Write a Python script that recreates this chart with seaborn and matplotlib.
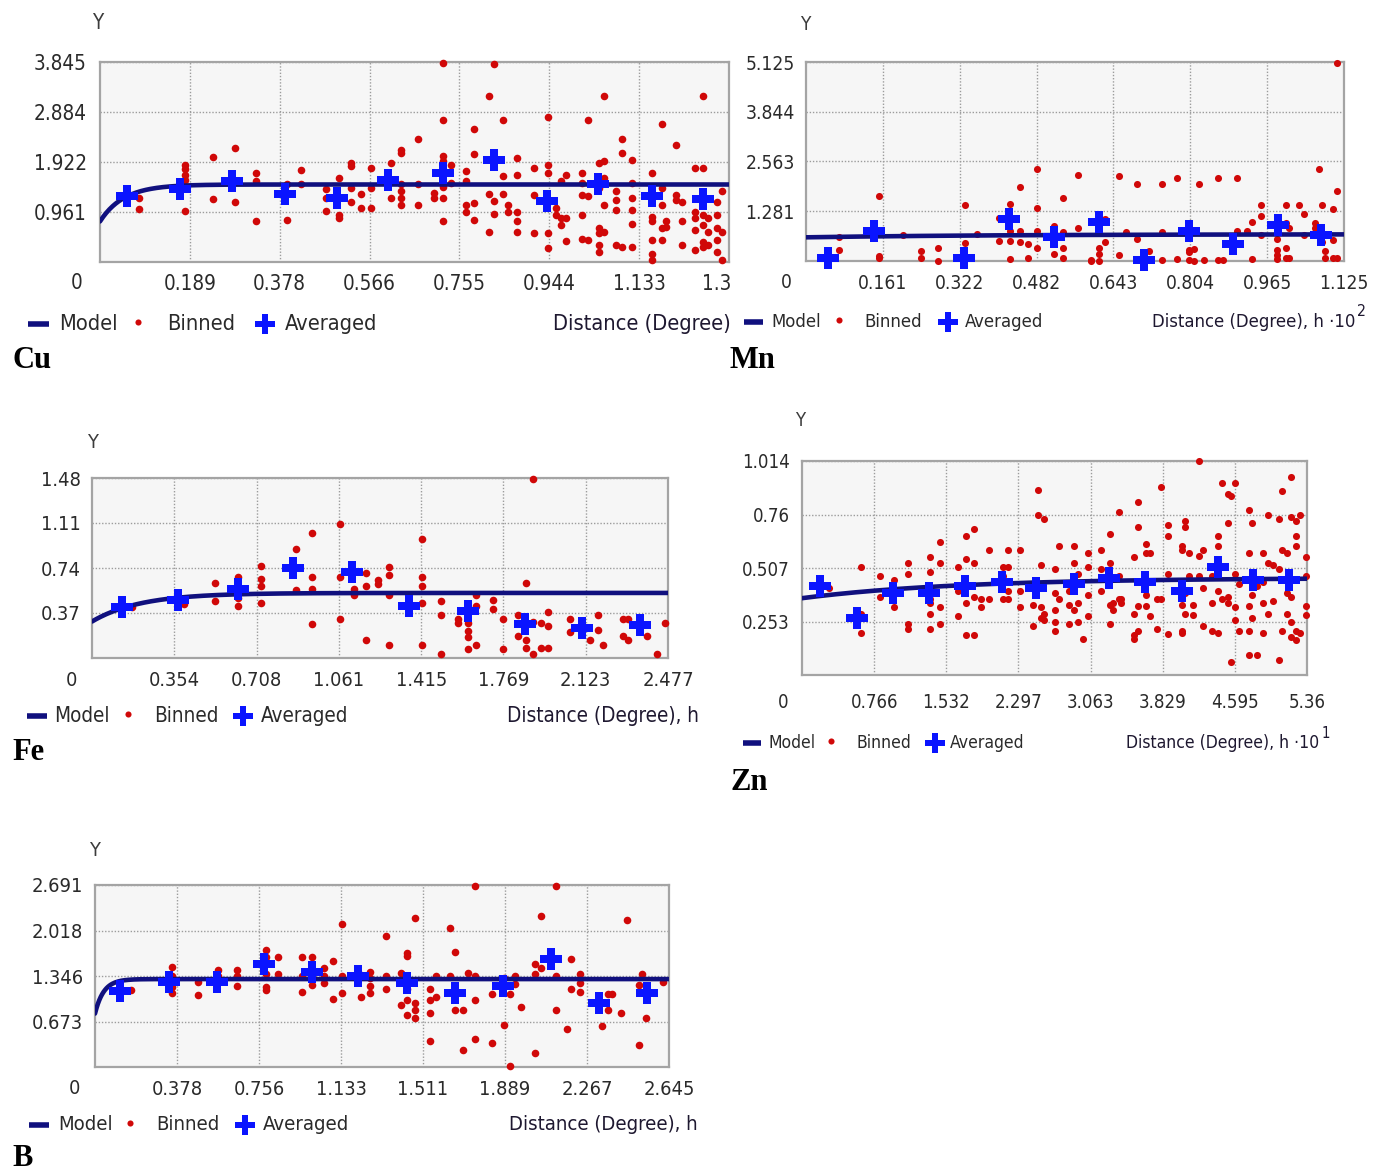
import numpy as np
import pandas as pd
import matplotlib
matplotlib.use("Agg")
import matplotlib.pyplot as plt
import seaborn as sns
from matplotlib import font_manager as fm
from matplotlib.lines import Line2D
from matplotlib.transforms import Bbox, TransformedBbox

# ---------------- data ----------------
CU_X_TICKS = ["0.189", "0.378", "0.566", "0.755", "0.944", "1.133", "1.322"]
CU_Y_TICKS = ["0.961", "1.922", "2.884", "3.845"]
CU_XMAX, CU_YMAX = 1.322, 3.845
CU_MODEL = (0.78, 1.49, 0.15)  # nugget, sill, range
CU_AVG_H = [0.057, 0.168, 0.277, 0.389, 0.498, 0.606, 0.720, 0.829, 0.939, 1.047, 1.161, 1.267]
CU_AVG_G = [1.26, 1.41, 1.56, 1.31, 1.24, 1.57, 1.71, 1.97, 1.18, 1.50, 1.26, 1.21]
CU_BINNED = [
    (0.082, [1.23, 1.02]), (0.178, [1.87, 1.78, 1.68, 1.58, 0.98]), (0.238, [2.02, 1.21]),
    (0.284, [2.20, 1.16]), (0.327, [1.71, 1.55, 0.78]), (0.393, [1.50, 0.81]),
    (0.422, [1.76, 1.50]), (0.475, [1.40, 1.23, 0.98]), (0.502, [1.62, 0.90, 0.84]),
    (0.527, [1.91, 1.84, 1.42, 1.16]), (0.549, [1.31, 1.03]), (0.569, [1.81, 1.42, 1.03]),
    (0.612, [1.91, 1.23]), (0.632, [2.16, 2.10, 1.49, 1.36, 1.23, 1.09]), (0.668, [2.36, 1.50, 1.09]),
    (0.701, [1.23, 1.32]), (0.720, [3.82, 2.73, 2.03, 1.94, 1.45, 1.24, 0.78]), (0.738, [1.87, 1.52]),
    (0.770, [1.74, 1.55, 0.97, 1.10]), (0.787, [2.55, 2.07, 1.13, 0.81]), (0.817, [3.20, 1.30, 0.58]),
    (0.829, [3.80, 1.18, 0.92]), (0.846, [2.73, 1.65, 1.30]), (0.858, [1.10, 0.97]),
    (0.876, [2.00, 1.68, 0.97, 0.78, 0.58]), (0.913, [1.81, 1.29, 0.55]),
    (0.942, [2.78, 1.87, 1.71, 1.16, 0.55, 0.26]), (0.958, [1.03, 0.90]), (0.968, [1.55, 0.84, 0.71]),
    (0.980, [1.68, 0.84, 0.40]), (1.012, [1.71, 1.52, 1.29, 0.90, 0.45]), (1.025, [2.73, 1.26, 0.42]),
    (1.049, [1.91, 1.42, 0.65, 0.55, 0.32, 0.19]), (1.059, [3.20, 1.94, 1.62, 1.09, 0.58]),
    (1.084, [1.36, 1.20, 1.00, 0.32]), (1.097, [2.37, 2.10, 0.29]),
    (1.119, [1.97, 1.52, 1.23, 1.00, 0.74, 0.29]), (1.161, [1.71, 0.87, 0.78, 0.42, 0.16, 0.03]),
    (1.181, [2.66, 1.42, 1.10, 0.65, 0.42]), (1.190, [0.78, 0.68]), (1.211, [2.25, 1.29, 1.20]),
    (1.223, [1.15, 0.78, 0.32]), (1.250, [1.81, 0.97, 0.84, 0.61, 0.23]),
    (1.267, [3.20, 1.81, 0.90, 0.71, 0.39, 0.29]), (1.277, [0.84, 0.58, 0.32]),
    (1.297, [1.16, 0.90, 0.65, 0.42, 0.19]), (1.307, [1.36, 0.58, 0.03]),
]

MN_X_TICKS = ["0.161", "0.322", "0.482", "0.643", "0.804", "0.965", "1.125"]
MN_Y_TICKS = ["1.281", "2.563", "3.844", "5.125"]
MN_XMAX, MN_YMAX = 1.125, 5.125
MN_MODEL = (0.61, 0.69, 1.2)
MN_AVG_H = [0.047, 0.142, 0.330, 0.425, 0.519, 0.613, 0.706, 0.800, 0.892, 0.987, 1.077]
MN_AVG_G = [0.09, 0.78, 0.09, 1.09, 0.61, 1.01, 0.03, 0.76, 0.43, 0.92, 0.68]
MN_BINNED = [
    (0.069, [0.63, 0.29]), (0.152, [1.68, 0.14, 0.07]), (0.202, [0.68]), (0.240, [0.26, 0.07]),
    (0.277, [0.33, 0.0]), (0.332, [1.44, 0.46]), (0.358, [0.69]), (0.403, [1.11, 0.52]),
    (0.426, [1.46, 0.76, 0.52, 0.05]), (0.448, [1.91, 0.78, 0.50]), (0.465, [0.43, 0.09]),
    (0.483, [2.37, 1.37, 0.78, 0.33]), (0.519, [0.89, 0.17]), (0.538, [1.62, 0.75, 0.33, 0.07]),
    (0.569, [2.21, 0.85]), (0.596, [0.02, 0.0]), (0.612, [0.33, 0.17, 0.0]), (0.626, [1.07, 0.50]),
    (0.655, [2.20, 0.16]), (0.669, [0.75]), (0.693, [1.98, 0.57]), (0.718, [0.26, 0.03]),
    (0.744, [1.98, 0.75, 0.03]), (0.776, [2.15, 0.05]), (0.801, [0.29, 0.23, 0.03]),
    (0.811, [0.31, 0.0]), (0.822, [1.98]), (0.832, [0.03]), (0.861, [2.15, 0.03]), (0.871, [0.03]),
    (0.901, [2.15, 0.76]), (0.922, [0.76]), (0.933, [1.01, 0.05]), (0.951, [1.44, 1.16, 0.68]),
    (0.984, [0.57, 0.29, 0.16, 0.05]), (1.004, [1.44, 0.98, 0.33, 0.07]), (1.011, [0.85, 0.07]),
    (1.030, [1.44]), (1.041, [1.20, 0.68]), (1.064, [0.98, 0.85]), (1.073, [2.37]),
    (1.079, [1.44, 0.49]), (1.085, [0.26, 0.07]), (1.103, [1.33, 0.55, 0.07]),
    (1.111, [5.09, 1.79, 0.09]),
]

FE_X_TICKS = ["0.354", "0.708", "1.061", "1.415", "1.769", "2.123", "2.477"]
FE_Y_TICKS = ["0.37", "0.74", "1.11", "1.48"]
FE_XMAX, FE_YMAX = 2.477, 1.48
FE_MODEL = (0.30, 0.535, 0.62)
FE_AVG_H = [0.131, 0.371, 0.630, 0.866, 1.119, 1.365, 1.615, 1.862, 2.108, 2.358]
FE_AVG_G = [0.42, 0.48, 0.57, 0.74, 0.71, 0.43, 0.39, 0.28, 0.25, 0.27]
FE_BINNED = [
    (0.173, [0.42]), (0.394, [0.44]), (0.530, [0.62, 0.47]), (0.630, [0.67, 0.49, 0.43]),
    (0.728, [0.76, 0.65, 0.59, 0.45]), (0.876, [0.90, 0.56]), (0.947, [1.03, 0.67, 0.57, 0.28]),
    (1.066, [1.10, 0.67, 0.32]), (1.125, [0.57, 0.52]), (1.177, [0.70, 0.59, 0.15]),
    (1.231, [0.64, 0.61]), (1.277, [0.75, 0.68, 0.52, 0.11]), (1.417, [0.98, 0.67, 0.59, 0.45, 0.11]),
    (1.500, [0.47, 0.35, 0.03]), (1.576, [0.32, 0.29]), (1.615, [0.29, 0.22, 0.17, 0.07]),
    (1.653, [0.52, 0.43, 0.11]), (1.726, [0.48, 0.40]), (1.766, [0.32, 0.07]), (1.834, [0.35, 0.18]),
    (1.868, [0.62, 0.15, 0.08]), (1.897, [1.47, 0.30, 0.03]), (1.932, [0.29, 0.08]),
    (1.960, [0.38, 0.26, 0.08]), (2.056, [0.32, 0.21]), (2.141, [0.15]), (2.175, [0.35, 0.23]),
    (2.198, [0.11]), (2.285, [0.32, 0.18]), (2.306, [0.32, 0.15]), (2.387, [0.18]), (2.431, [0.03]),
    (2.463, [0.29]),
]

ZN_X_TICKS = ["0.766", "1.532", "2.297", "3.063", "3.829", "4.595", "5.36"]
ZN_Y_TICKS = ["0.253", "0.507", "0.76", "1.014"]
ZN_XMAX, ZN_YMAX = 5.36, 1.014
ZN_MODEL = (0.364, 0.46, 5.0)
ZN_AVG_H = [0.195, 0.588, 0.966, 1.351, 1.725, 2.122, 2.488, 2.885, 3.259, 3.644, 4.030, 4.415, 4.792, 5.174]
ZN_AVG_G = [0.42, 0.27, 0.39, 0.39, 0.42, 0.44, 0.41, 0.43, 0.46, 0.44, 0.40, 0.51, 0.45, 0.45]
ZN_BINNED = [
    (0.288, [0.41]), (0.621, [0.51, 0.29, 0.20]), (0.824, [0.47, 0.37]), (0.978, [0.45, 0.32]),
    (1.128, [0.53, 0.48, 0.24, 0.22]), (1.363, [0.56, 0.49, 0.36, 0.34, 0.29, 0.22]),
    (1.465, [0.63, 0.53, 0.32, 0.24]), (1.656, [0.51, 0.40, 0.28]), (1.745, [0.66, 0.55, 0.34, 0.19]),
    (1.826, [0.69, 0.53, 0.37, 0.19]), (1.899, [0.36, 0.32]), (1.980, [0.59, 0.36]),
    (2.130, [0.51, 0.47, 0.36]), (2.191, [0.59, 0.51, 0.40, 0.36]), (2.317, [0.59, 0.40, 0.32]),
    (2.447, [0.33, 0.23]), (2.508, [0.875, 0.76]), (2.536, [0.52, 0.32, 0.27]),
    (2.569, [0.74, 0.29, 0.26]), (2.682, [0.50, 0.39, 0.31, 0.25, 0.21]), (2.731, [0.61, 0.36]),
    (2.832, [0.40, 0.33, 0.24]), (2.885, [0.61, 0.53, 0.44, 0.31]), (2.934, [0.48, 0.34, 0.25]),
    (2.983, [0.17]), (3.035, [0.58, 0.51, 0.38, 0.28]), (3.169, [0.59, 0.50, 0.40]),
    (3.271, [0.67, 0.53, 0.33, 0.24]), (3.299, [0.34, 0.31]), (3.360, [0.77, 0.47, 0.36]),
    (3.388, [0.36, 0.34]), (3.522, [0.56, 0.29, 0.19, 0.17]), (3.563, [0.82, 0.70, 0.325, 0.21]),
    (3.656, [0.62, 0.58, 0.38, 0.325]), (3.697, [0.58, 0.28]), (3.766, [0.36, 0.22]),
    (3.806, [0.89, 0.36]), (3.888, [0.71, 0.66, 0.48, 0.195]), (4.030, [0.61, 0.59, 0.33, 0.21, 0.20]),
    (4.062, [0.73, 0.70, 0.39, 0.29]), (4.111, [0.58, 0.47]), (4.151, [0.33, 0.285]),
    (4.212, [1.013, 0.565, 0.47]), (4.253, [0.59, 0.41, 0.23]), (4.354, [0.47, 0.34, 0.21]),
    (4.415, [0.66, 0.61, 0.40, 0.20]), (4.456, [0.91, 0.36]), (4.517, [0.86, 0.72, 0.37, 0.34]),
    (4.557, [0.85, 0.063]), (4.598, [0.91, 0.48, 0.32, 0.26]), (4.638, [0.43, 0.21]),
    (4.740, [0.78, 0.58, 0.325, 0.21, 0.095]), (4.780, [0.72, 0.48, 0.38, 0.27]), (4.833, [0.42, 0.095]),
    (4.890, [0.58, 0.44, 0.34, 0.20]), (4.943, [0.76, 0.53, 0.29]), (4.995, [0.52, 0.35]),
    (5.064, [0.74, 0.50, 0.071]), (5.097, [0.87, 0.59, 0.21]), (5.146, [0.58, 0.39, 0.29]),
    (5.186, [0.94, 0.75, 0.37, 0.249, 0.182]), (5.239, [0.73, 0.66, 0.61, 0.21, 0.166]),
    (5.288, [0.76, 0.198]), (5.348, [0.56, 0.47, 0.325, 0.285]),
]

B_X_TICKS = ["0.378", "0.756", "1.133", "1.511", "1.889", "2.267", "2.645"]
B_Y_TICKS = ["0.673", "1.346", "2.018", "2.691"]
B_XMAX, B_YMAX = 2.645, 2.691
B_MODEL = (0.79, 1.30, 0.12)
B_AVG_H = [0.115, 0.341, 0.561, 0.781, 0.998, 1.212, 1.438, 1.660, 1.882, 2.101, 2.323, 2.543]
B_AVG_G = [1.13, 1.26, 1.26, 1.52, 1.41, 1.34, 1.24, 1.10, 1.20, 1.59, 0.94, 1.09]
B_BINNED = [
    (0.164, [1.14]), (0.355, [1.48, 1.34, 1.19, 1.10]), (0.474, [1.26, 1.07]), (0.565, [1.44, 1.34]),
    (0.653, [1.44, 1.34, 1.20]), (0.787, [1.73, 1.63, 1.38, 1.19, 1.14]), (0.844, [1.63, 1.38]),
    (0.953, [1.63, 1.34, 1.11]), (1.002, [1.63, 1.34, 1.21]), (1.054, [1.47, 1.34, 1.24]),
    (1.095, [1.57, 1.00]), (1.140, [2.11, 1.34, 1.09]), (1.224, [1.36, 1.04]),
    (1.265, [1.41, 1.31, 1.20, 1.09]), (1.341, [1.93, 1.34, 1.15]), (1.409, [1.39, 0.92]),
    (1.438, [1.69, 1.64, 1.16, 0.99, 0.77]), (1.475, [2.21, 0.95, 0.84, 0.72]),
    (1.543, [1.16, 0.99, 0.80, 0.39]), (1.573, [1.34, 1.04]), (1.635, [2.06, 1.34]),
    (1.660, [1.70, 0.84]), (1.695, [0.84, 0.25]), (1.717, [1.39]), (1.752, [2.67, 1.34, 0.99, 0.41]),
    (1.828, [1.08, 0.36]), (1.886, [1.31, 0.62]), (1.912, [1.08, 0.01]), (1.937, [1.35, 1.23]),
    (1.964, [0.88]), (2.029, [1.53, 1.38, 0.21]), (2.054, [2.24, 1.47]), (2.122, [2.67, 1.34, 0.84]),
    (2.173, [0.56]), (2.194, [1.59, 1.15]), (2.235, [1.38, 1.24, 1.11]), (2.337, [0.60]),
    (2.362, [1.08, 0.84]), (2.383, [1.08]), (2.424, [0.80]), (2.450, [2.18]), (2.506, [1.21, 0.33]),
    (2.522, [1.38]), (2.539, [0.72]), (2.619, [1.25]),
]

# ---------------- style ----------------
sns.set_style("white")
names = {f.name for f in fm.fontManager.ttflist}
if "Liberation Sans Narrow" in names:
    NARROW = "Liberation Sans Narrow"
    STRETCH = "normal"
    SCALE = 1.0
elif any(f.name == "DejaVu Sans" and str(f.stretch) == "condensed" for f in fm.fontManager.ttflist):
    NARROW = "DejaVu Sans"
    STRETCH = "condensed"
    SCALE = 0.85
else:
    NARROW = "Roboto"
    STRETCH = "normal"
    SCALE = 0.85
plt.rcParams["font.family"] = [NARROW, "DejaVu Sans"]
plt.rcParams["font.stretch"] = STRETCH

RED = "#d00808"
BLUE = "#0a14ff"
NAVY = "#10107e"
TXT = "#2a2a2a"
W, H = 1375, 1171
fig = plt.figure(figsize=(W / 100, H / 100), dpi=100, facecolor="white")


def fx(px):
    return px / W


def fy(py):
    return 1 - py / H


def flatten(groups):
    hs, gs = [], []
    for h, ys in groups:
        hs += [h] * len(ys)
        gs += ys
    return pd.DataFrame({"h": hs, "g": gs})


PANELS = [
    dict(name="Cu", box=(100, 729, 62, 262), xmax=CU_XMAX, ymax=CU_YMAX, xt=CU_X_TICKS, yt=CU_Y_TICKS,
         binned=CU_BINNED, ah=CU_AVG_H, ag=CU_AVG_G, model=CU_MODEL, fs=17.5, lfs=18.4, xpad=9, ypad=9.4,
         zero=(77, 283), ylab=(98, 23), leg_y=324, leg=(28, 49, 59, 138, 167, 265, 285, 553),
         sup=None, lab=(12, 360), clip=731, dot=30),
    dict(name="Mn", box=(806, 1344, 62, 261), xmax=MN_XMAX, ymax=MN_YMAX, xt=MN_X_TICKS, yt=MN_Y_TICKS,
         binned=MN_BINNED, ah=MN_AVG_H, ag=MN_AVG_G, model=MN_MODEL, fs=16.2, lfs=15.6, xpad=9.7, ypad=8,
         zero=(786, 283), ylab=(805, 25), leg_y=322, leg=(744, 763, 771, 839, 864, 948, 965, 1152),
         sup="2", lab=(730, 360), clip=None, dot=26),
    dict(name="Fe", box=(92, 668, 478, 658), xmax=FE_XMAX, ymax=FE_YMAX, xt=FE_X_TICKS, yt=FE_Y_TICKS,
         binned=FE_BINNED, ah=FE_AVG_H, ag=FE_AVG_G, model=FE_MODEL, fs=17, lfs=17.5, xpad=9, ypad=8,
         zero=(71, 680), ylab=(92, 443), leg_y=716, leg=(27, 47, 54, 128, 154, 243, 261, 507),
         sup=None, lab=(12, 753), clip=None, dot=30),
    dict(name="Zn", box=(802, 1307, 461, 675), xmax=ZN_XMAX, ymax=ZN_YMAX, xt=ZN_X_TICKS, yt=ZN_Y_TICKS,
         binned=ZN_BINNED, ah=ZN_AVG_H, ag=ZN_AVG_G, model=ZN_MODEL, fs=15.8, lfs=14.8, xpad=13.3, ypad=8.6,
         zero=(783, 702), ylab=(800, 420), leg_y=743, leg=(743, 761, 769, 831, 856, 935, 950, 1126),
         sup="1", lab=(730, 782), clip=None, dot=26),
    dict(name="B", box=(95, 669, 885, 1067), xmax=B_XMAX, ymax=B_YMAX, xt=B_X_TICKS, yt=B_Y_TICKS,
         binned=B_BINNED, ah=B_AVG_H, ag=B_AVG_G, model=B_MODEL, fs=17, lfs=17.2, xpad=9.7, ypad=8.6,
         zero=(74, 1089), ylab=(94, 851), leg_y=1125, leg=(29, 49, 58, 130, 156, 245, 263, 509),
         sup=None, lab=(12, 1158), clip=None, dot=30),
]

fig.canvas.draw()
renderer = fig.canvas.get_renderer()

for p in PANELS:
    l, r, t, b = p["box"]
    ax = fig.add_axes([fx(l), fy(b), (r - l) / W, (b - t) / H])
    ax.set_facecolor("#f6f6f6")
    xmax, ymax = p["xmax"], p["ymax"]
    fs = p["fs"] * SCALE
    lfs = p["lfs"] * SCALE

    df_b = flatten(p["binned"])
    df_a = pd.DataFrame({"h": p["ah"], "g": p["ag"]})
    c0, c, a = p["model"]
    hh = np.linspace(0, xmax, 400)
    df_m = pd.DataFrame({"h": hh, "g": c0 + (c - c0) * (1 - np.exp(-3 * hh / a))})

    sns.scatterplot(data=df_b, x="h", y="g", ax=ax, color=RED, s=p["dot"], linewidth=0,
                    zorder=3, clip_on=False, legend=False)
    sns.lineplot(data=df_m, x="h", y="g", ax=ax, color=NAVY, linewidth=3.3, zorder=4, legend=False)
    sns.scatterplot(data=df_a, x="h", y="g", ax=ax, color=BLUE, marker="P", s=250, linewidth=0,
                    zorder=5, clip_on=False, legend=False)

    ax.set_xlim(0, xmax)
    ax.set_ylim(0, ymax)
    ax.set_xlabel("")
    ax.set_ylabel("")
    ax.set_xticks(np.arange(1, 8) * xmax / 7, p["xt"])
    ax.set_yticks(np.arange(1, 5) * ymax / 4, p["yt"])
    ax.tick_params(axis="both", length=0, labelsize=fs, colors=TXT)
    ax.tick_params(axis="x", pad=p["xpad"])
    ax.tick_params(axis="y", pad=p["ypad"])
    ax.grid(True, color="#9c9c9c", linestyle=(0, (1, 1.3)), linewidth=1.0, zorder=0)
    ax.set_axisbelow(True)
    for s in ax.spines.values():
        s.set_color("#a4a4a4")
        s.set_linewidth(1.6)

    if p["clip"] is not None:
        cb = TransformedBbox(Bbox.from_extents(0, 0, p["clip"] / W, 1), fig.transFigure)
        for lbl in ax.get_xticklabels():
            lbl.set_clip_box(cb)
            lbl.set_clip_on(True)
    else:
        cb = None

    # zero label and Y
    fig.text(fx(p["zero"][0]), fy(p["zero"][1]), "0", ha="center", va="center", fontsize=fs, color=TXT)
    fig.text(fx(p["ylab"][0]), fy(p["ylab"][1]), "Y", ha="center", va="center", fontsize=fs,
             color="#3c3c3c")

    # legend row
    x0, x1, xm, xd, xb, xp, xa, xdist = p["leg"]
    ly = fy(p["leg_y"])
    fig.add_artist(Line2D([fx(x0), fx(x1)], [ly, ly], color=NAVY, lw=4.0, solid_capstyle="butt"))
    fig.text(fx(xm), ly, "Model", ha="left", va="center", fontsize=lfs, color=TXT)
    fig.add_artist(Line2D([fx(xd)], [ly + 2 / H], marker="o", ms=4.4, color=RED, mew=0, lw=0))
    fig.text(fx(xb), ly, "Binned", ha="left", va="center", fontsize=lfs, color=TXT)
    fig.add_artist(Line2D([fx(xp)], [ly], marker="P", ms=15, color=BLUE, mew=0, lw=0))
    fig.text(fx(xa), ly, "Averaged", ha="left", va="center", fontsize=lfs, color=TXT)
    if p["sup"] is None:
        dist = "Distance (Degree), h"
    else:
        dist = "Distance (Degree), h \u00b710"
    td = fig.text(fx(xdist), ly, dist, ha="left", va="center", fontsize=lfs, color="#1e1830")
    if cb is not None:
        td.set_clip_box(cb)
        td.set_clip_on(True)
    if p["sup"] is not None:
        bb = td.get_window_extent(renderer=renderer)
        fig.text((bb.x1 + 2) / W, ly + 10 / H, p["sup"], ha="left", va="center",
                 fontsize=lfs - 2, color="#1e1830")

    # element label
    fig.text(fx(p["lab"][0]), fy(p["lab"][1]), p["name"], ha="left", va="center",
             fontsize=22, fontweight="bold", family=["Liberation Serif", "DejaVu Serif"], color="black")

fig.savefig("out.png", dpi=100, facecolor="white")
